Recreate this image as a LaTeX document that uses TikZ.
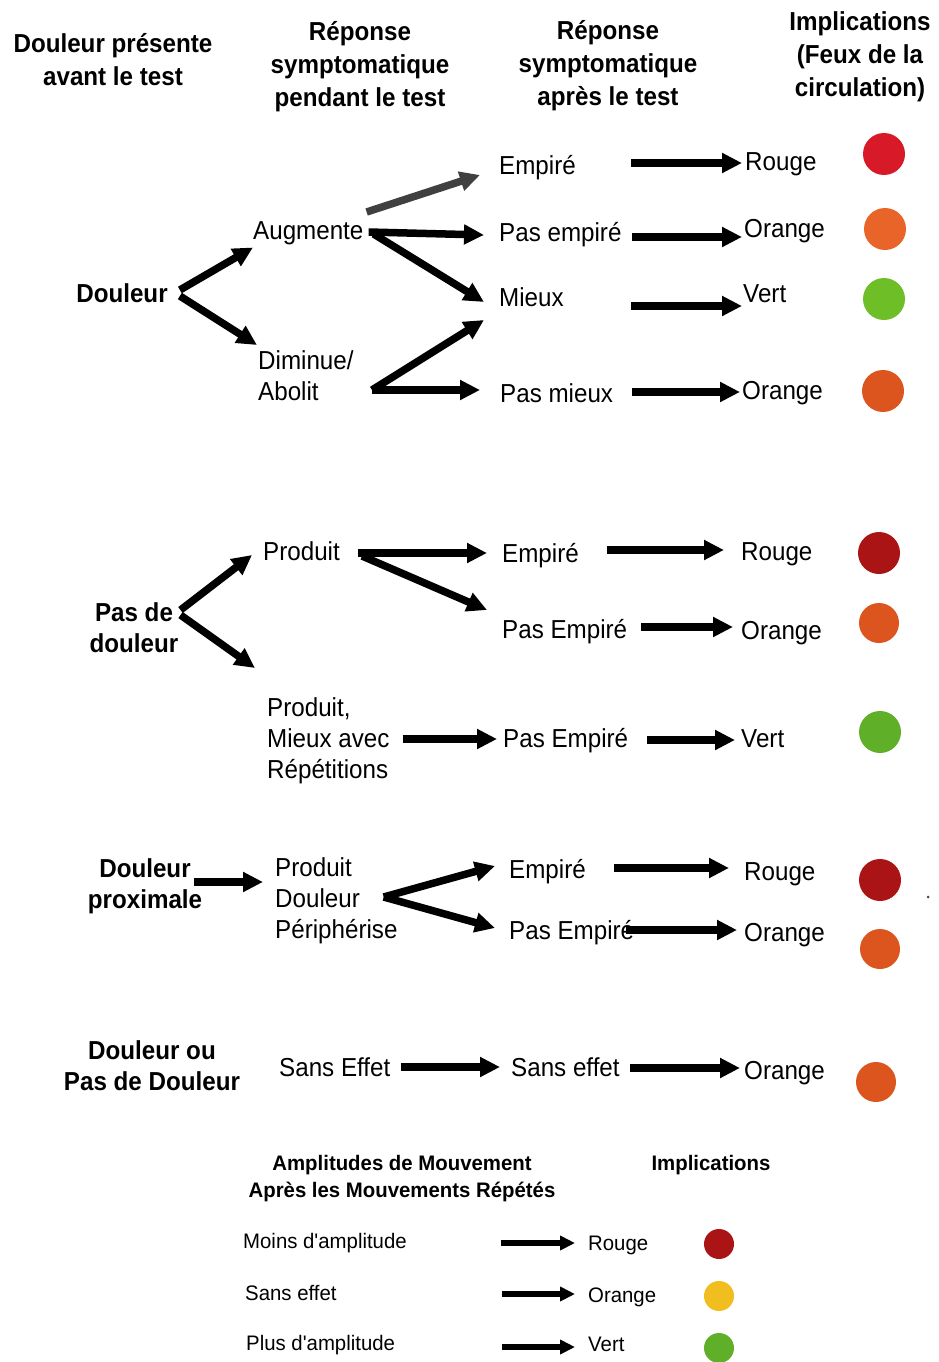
\documentclass[tikz,border=0pt]{standalone}
\usepackage{fontspec}
\setmainfont{Liberation Sans}[FakeStretch=0.93]
\newfontfamily\legfont{Liberation Sans}[FakeStretch=0.97]
\usetikzlibrary{arrows.meta}
\definecolor{rougeA}{RGB}{215,25,40}
\definecolor{rougeB}{RGB}{170,20,20}
\definecolor{orangeA}{RGB}{232,100,40}
\definecolor{orangeB}{RGB}{220,85,30}
\definecolor{vertA}{RGB}{110,190,40}
\definecolor{vertB}{RGB}{95,175,40}
\definecolor{jauneA}{RGB}{240,190,30}
\newcommand{\feu}[5][42pt]{% #1: optional size, #2: name, #3: x, #4: y, #5: colour
	\node[feu,minimum size=#1,fill=#5] (#2) at (#3,#4) {};
}

\begin{document}
\begin{tikzpicture}[x=1pt,y=-1pt,
	txt/.style={inner sep=0pt,text height=18.6pt,text depth=0pt,font=\fontsize{26}{31}\selectfont},
	gras/.style={txt,font=\fontsize{26}{31}\selectfont\bfseries,align=center},
	titre/.style={txt,font=\fontsize{26}{33}\selectfont\bfseries,align=center},
	leg/.style={inner sep=0pt,text height=15pt,text depth=0pt,font=\fontsize{21}{27}\selectfont\legfont},
	feu/.style={circle,draw=none,inner sep=0pt},
	fleche/.style={line width=7.5pt,-{Triangle[length=20pt,width=19pt]}},
	petite/.style={line width=5.5pt,-{Triangle[length=15pt,width=14pt]}}]
	% Page
	\fill[white] (0,0) rectangle (938,1362);
	\useasboundingbox (0,0) rectangle (938,1362);
	
	% Column heads (placed by their last line)
	\node[titre] (hdA) at (113,76) {Douleur présente\\avant le test};
	\node[titre] (hdB) at (360,97) {Réponse\\symptomatique\\pendant le test};
	\node[titre] (hdC) at (608,96) {Réponse\\symptomatique\\après le test};
	\node[titre] (hdD) at (860,87) {Implications\\(Feux de la\\circulation)};
	
	% Douleur
	\node[gras] (dou) at (122,293) {Douleur};
	\node[txt,anchor=west] (aug) at (253,230) {Augmente};
	\node[txt,anchor=west,align=left] (dim) at (258,391) {Diminue/\\Abolit};
	\node[txt,anchor=west] (empA) at (499,165) {Empiré};
	\node[txt,anchor=west] (pempA) at (499,232) {Pas empiré};
	\node[txt,anchor=west] (mieux) at (499,297) {Mieux};
	\node[txt,anchor=west] (pmieux) at (500,393) {Pas mieux};
	\node[txt,anchor=west] (rougeA) at (745,161) {Rouge};
	\node[txt,anchor=west] (orangeA) at (744,228) {Orange};
	\node[txt,anchor=west] (vertA) at (743,293) {Vert};
	\node[txt,anchor=west] (orangeB) at (742,390) {Orange};
	\draw[fleche] ([xshift=12pt,yshift=3pt]dou.east) -- ([yshift=-8pt]aug.south west);
	\draw[fleche] ([xshift=12pt,yshift=-3pt]dou.east) -- ([xshift=-1pt,yshift=46pt]dim.west);
	\draw[fleche,black!75] ([xshift=3pt,yshift=18pt]aug.east) -- ([xshift=-19pt,yshift=-10pt]empA.west);
	\draw[fleche] ([xshift=5pt,yshift=-2pt]aug.east) -- ([xshift=-15pt,yshift=-3pt]pempA.west);
	\draw[fleche] ([xshift=10pt,yshift=-4pt]aug.east) -- ([xshift=-15pt,yshift=-5pt]mieux.west);
	\draw[fleche] ([xshift=114pt,yshift=1pt]dim.west) -- ([xshift=-15pt,yshift=-23pt]mieux.west);
	\draw[fleche] ([xshift=114pt,yshift=1pt]dim.west) -- ([xshift=-20pt,yshift=3pt]pmieux.west);
	\draw[fleche] ([xshift=55pt,yshift=2pt]empA.east) -- ([xshift=-3pt,yshift=-2pt]rougeA.west);
	\draw[fleche] ([xshift=10pt,yshift=-5pt]pempA.east) -- ([xshift=-2pt,yshift=-9pt]orangeA.west);
	\draw[fleche] ([xshift=67pt,yshift=-9pt]mieux.east) -- ([xshift=-1pt,yshift=-13pt]vertA.west);
	\draw[fleche] ([xshift=19pt,yshift=1pt]pmieux.east) -- ([xshift=-2pt,yshift=-2pt]orangeB.west);
	\feu{fA}{884}{154}{rougeA}
	\feu{fB}{885}{229}{orangeA}
	\feu{fC}{884}{299}{vertA}
	\feu{fD}{883}{391}{orangeB}
	
	% Pas de douleur
	\node[gras] (pasdou) at (134,643) {Pas de\\douleur};
	\node[txt,anchor=west] (prod) at (263,551) {Produit};
	\node[txt,anchor=west,align=left] (prodmieux) at (267,769) {Produit,\\Mieux avec\\Répétitions};
	\node[txt,anchor=west] (empB) at (502,553) {Empiré};
	\node[txt,anchor=west] (pempB) at (502,629) {Pas Empiré};
	\node[txt,anchor=west] (pempC) at (503,738) {Pas Empiré};
	\node[txt,anchor=west] (rougeB) at (741,551) {Rouge};
	\node[txt,anchor=west] (orangeC) at (741,630) {Orange};
	\node[txt,anchor=west] (vertB) at (741,738) {Vert};
	\draw[fleche] ([xshift=2pt,yshift=33pt]pasdou.east) -- ([xshift=-11pt,yshift=-4pt]prod.west);
	\draw[fleche] ([xshift=2pt,yshift=28pt]pasdou.east) -- ([xshift=-12pt,yshift=101pt]prodmieux.west);
	\draw[fleche] ([xshift=18pt,yshift=-2pt]prod.east) -- ([xshift=-15pt]empB.west);
	\draw[fleche] ([xshift=22pt,yshift=-5pt]prod.east) -- ([xshift=-15pt,yshift=19pt]pempB.west);
	\draw[fleche] ([xshift=28pt,yshift=3pt]empB.east) -- ([xshift=-17pt,yshift=1pt]rougeB.west);
	\draw[fleche] ([xshift=14pt,yshift=2pt]pempB.east) -- ([xshift=-8pt,yshift=3pt]orangeC.west);
	\draw[fleche] ([xshift=13pt,yshift=30pt]prodmieux.east) -- ([xshift=-6pt,yshift=-1pt]pempC.west);
	\draw[fleche] ([xshift=19pt,yshift=-2pt]pempC.east) -- ([xshift=-6pt,yshift=-2pt]vertB.west);
	\feu{fE}{879}{553}{rougeB}
	\feu[40pt]{fF}{879}{623}{orangeB}
	\feu{fG}{880}{732}{vertB}
	
	% Douleur proximale
	\node[gras] (douprox) at (145,899) {Douleur\\proximale};
	\node[txt,anchor=west,align=left] (prodper) at (275,929) {Produit\\Douleur\\Périphérise};
	\node[txt,anchor=west] (empC) at (509,869) {Empiré};
	\node[txt,anchor=west] (pempD) at (509,930) {Pas Empiré};
	\node[txt,anchor=west] (rougeC) at (744,871) {Rouge};
	\node[txt,anchor=west] (orangeD) at (744,932) {Orange};
	\draw[fleche] ([xshift=-8pt,yshift=17pt]douprox.east) -- ([xshift=-12pt,yshift=47pt]prodper.west);
	\draw[fleche] ([xshift=-14pt,yshift=32pt]prodper.east) -- ([xshift=-14pt,yshift=3pt]empC.west);
	\draw[fleche] ([xshift=-14pt,yshift=32pt]prodper.east) -- ([xshift=-14pt,yshift=2pt]pempD.west);
	\draw[fleche] ([xshift=28pt,yshift=1pt]empC.east) -- ([xshift=-15pt,yshift=3pt]rougeC.west);
	\draw[fleche] ([xshift=-8pt]pempD.east) -- ([xshift=-7pt,yshift=2pt]orangeD.west);
	\feu{fH}{880}{880}{rougeB}
	\feu[40pt]{fI}{880}{949}{orangeB}
	\fill[black!70] (928,897) circle (1.5);
	
	% Douleur ou pas de douleur
	\node[gras] (dououpas) at (152,1081) {Douleur ou\\Pas de Douleur};
	\node[txt,anchor=west] (seffA) at (279,1067) {Sans Effet};
	\node[txt,anchor=west] (seffB) at (511,1067) {Sans effet};
	\node[txt,anchor=west] (orangeE) at (744,1070) {Orange};
	\draw[fleche] ([xshift=10pt]seffA.east) -- ([xshift=-11pt]seffB.west);
	\draw[fleche] ([xshift=10pt,yshift=-1pt]seffB.east) -- ([xshift=-4pt,yshift=2pt]orangeE.west);
	\feu[40pt]{fJ}{876}{1082}{orangeB}
	
	% Legend
	\node[leg,font=\fontsize{21}{27}\selectfont\legfont\bfseries,align=center] (leghd) at (402,1190) {Amplitudes de Mouvement\\Après les Mouvements Répétés};
	\node[leg,font=\fontsize{21}{27}\selectfont\legfont\bfseries] (legimp) at (711,1163) {Implications};
	\node[leg,anchor=west] (moins) at (243,1241) {Moins d'amplitude};
	\node[leg,anchor=west] (sans) at (245,1293) {Sans effet};
	\node[leg,anchor=west] (plus) at (246,1343) {Plus d'amplitude};
	\node[leg,anchor=west] (lrouge) at (588,1243) {Rouge};
	\node[leg,anchor=west] (lorange) at (588,1295) {Orange};
	\node[leg,anchor=west] (lvert) at (588,1344) {Vert};
	\draw[petite] ([xshift=94pt,yshift=-2pt]moins.east) -- ([xshift=-13pt]lrouge.west);
	\draw[petite] ([xshift=165pt,yshift=-1pt]sans.east) -- ([xshift=-13pt,yshift=1pt]lorange.west);
	\draw[petite] ([xshift=107pt,yshift=-4pt]plus.east) -- ([xshift=-13pt,yshift=-3pt]lvert.west);
	\feu[30pt]{lfA}{719}{1244}{rougeB}
	\feu[30pt]{lfB}{719}{1296}{jauneA}
	\feu[30pt]{lfC}{719}{1348}{vertB}
\end{tikzpicture}
\end{document}
